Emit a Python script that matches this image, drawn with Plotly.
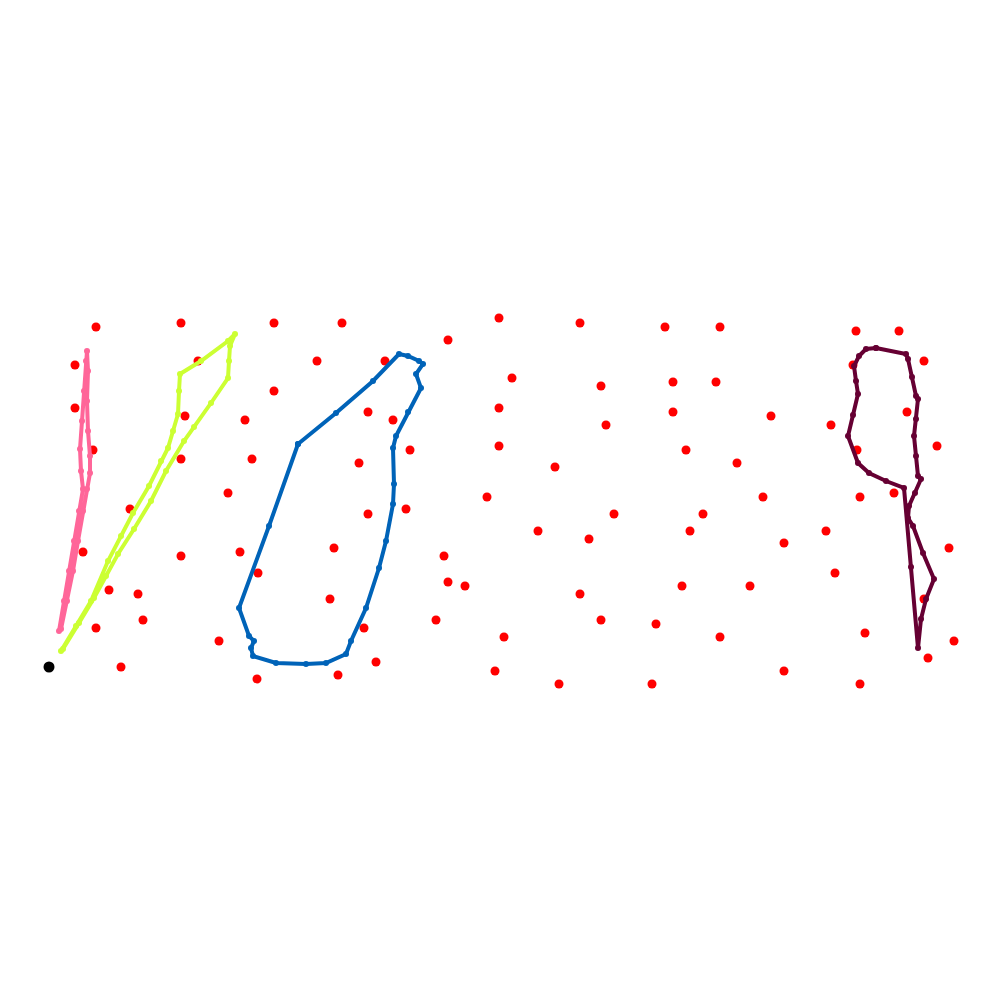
import plotly.graph_objects as go

# Red scattered points (x, y measured from top)
red_x = [95,180,273,341,447,498,579,664,719,855,898,
         74,197,316,384,511,600,672,715,852,923,
         74,273,244,184,367,392,498,605,672,770,830,906,
         92,180,251,358,409,498,554,685,736,856,936,
         129,227,367,405,486,613,702,762,859,893,
         82,180,239,333,443,537,588,689,783,825,948,
         257,447,464,579,681,749,834,923,
         108,137,142,95,329,435,600,655,719,864,953,363,218,
         503,120,375,494,558,651,783,859,927,256,337]
red_y = [326,322,322,322,339,317,322,326,326,330,330,
         364,360,360,360,377,385,381,381,364,360,
         407,390,419,415,411,419,407,424,411,415,424,411,
         449,458,458,462,449,445,466,449,462,449,445,
         508,492,513,508,496,513,513,496,496,492,
         551,555,551,547,555,530,538,530,542,530,547,
         572,581,585,593,585,585,572,598,
         589,593,619,627,598,619,619,623,636,632,640,627,640,
         636,666,661,670,683,683,670,683,657,678,674]

black_x = [48]
black_y = [666]

pink_x = [58,63,68,73,78,82,80,79,81,83,85,86,87,86,87,89,89,86,82,77,72,66,60]
pink_y = [630,600,570,540,510,488,470,448,420,390,360,350,370,400,430,455,472,488,510,540,570,600,628]

yellow_x = [60,75,90,107,120,132,148,160,167,172,177,178,179,200,227,234,229,228,227,210,193,183,165,150,133,117,105,93,78,62]
yellow_y = [650,625,600,560,535,512,485,460,447,430,413,390,373,360,340,333,345,360,377,402,426,440,470,500,528,553,575,597,622,648]

blue_x = [297,335,372,398,407,418,422,415,420,407,395,392,393,392,385,378,365,350,345,325,305,275,252,250,253,248,238,268,297]
blue_y = [443,412,380,353,355,360,363,373,387,411,435,447,483,503,540,567,607,640,653,662,663,662,655,647,640,635,607,525,443]

maroon_x = [875,905,907,911,915,917,915,913,915,917,920,914,908,907,912,922,933,925,920,917,910,903,885,868,857,847,852,857,855,853,858,865,875]
maroon_y = [347,353,358,376,395,398,418,435,455,475,478,492,505,517,525,552,578,598,618,647,566,487,480,472,462,435,414,393,380,365,355,348,347]

fig = go.Figure()
fig.add_trace(go.Scatter(x=red_x, y=red_y, mode="markers",
                         marker=dict(color="#ff0000", size=9), hoverinfo="skip"))

paths = [
    (pink_x, pink_y, "#ff6699"),
    (yellow_x, yellow_y, "#ccff33"),
    (blue_x, blue_y, "#0063b8"),
    (maroon_x, maroon_y, "#660033"),
]
for px, py, col in paths:
    fig.add_trace(go.Scatter(x=px, y=py, mode="lines+markers",
                             line=dict(color=col, width=4),
                             marker=dict(color=col, size=6), hoverinfo="skip"))

fig.add_trace(go.Scatter(x=black_x, y=black_y, mode="markers",
                         marker=dict(color="#000000", size=11), hoverinfo="skip"))

fig.update_layout(
    width=1000, height=1000,
    margin=dict(l=0, r=0, t=0, b=0),
    paper_bgcolor="white", plot_bgcolor="white",
    showlegend=False,
    xaxis=dict(range=[7, 1007], visible=False),
    yaxis=dict(range=[1007, 7], visible=False),
)
fig.write_html("out.html")
